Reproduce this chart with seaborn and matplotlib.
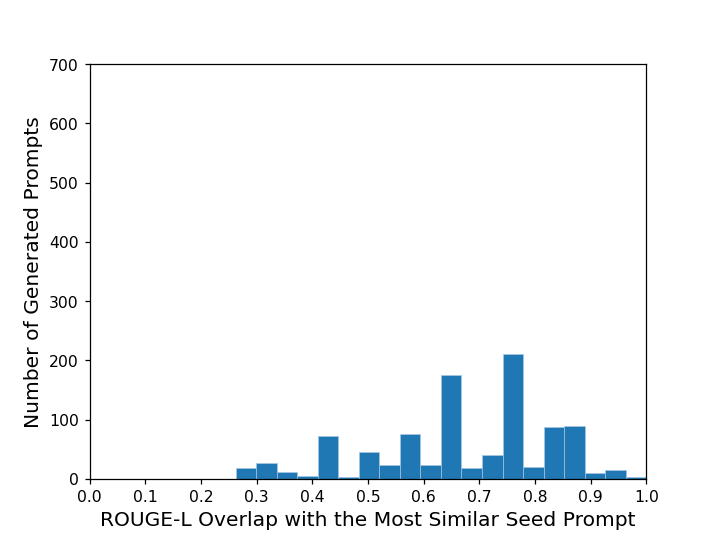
import numpy as np
import pandas as pd
import seaborn as sns
import matplotlib
matplotlib.use("Agg")
import matplotlib.pyplot as plt


# histogram bins (20 bins from ~0.262 to 1.0)
bin_lo = 0.262
bin_hi = 1.0
n_bins = 20
counts = [19, 27, 12, 4, 72, 3, 45, 24, 76, 23,
          175, 18, 40, 210, 20, 87, 89, 10, 14, 3]


def make_plot(filename):
    edges = np.linspace(bin_lo, bin_hi, n_bins + 1)
    centers = (edges[:-1] + edges[1:]) / 2
    data = pd.DataFrame({"overlap": centers, "count": counts})

    sns.set_style("ticks")
    plt.rcParams["font.family"] = ["DejaVu Sans"]
    fig, ax = plt.subplots(figsize=(6.4, 4.8))
    sns.histplot(data=data, x="overlap", weights="count", bins=n_bins,
                 binrange=(bin_lo, bin_hi),
                 color="#1f77b4", alpha=1, edgecolor="#a9c8e3", linewidth=0.4, ax=ax)
    ax.set_xlim(0, 1)
    ax.set_ylim(0, 700)
    ax.set_xticks(np.arange(0, 1.01, 0.1))
    ax.set_xticklabels([f"{t:.1f}" for t in np.arange(0, 1.01, 0.1)])
    ax.set_yticks(range(0, 701, 100))
    ax.tick_params(labelsize=10, colors="black")
    for s in ax.spines.values():
        s.set_visible(True)
        s.set_color("black")
        s.set_linewidth(0.8)
    ax.set_xlabel("ROUGE-L Overlap with the Most Similar Seed Prompt", fontsize=13, color="black")
    ax.set_ylabel("Number of Generated Prompts", fontsize=13, color="black")
    plt.savefig(filename, dpi=112.2)


make_plot("out.png")
